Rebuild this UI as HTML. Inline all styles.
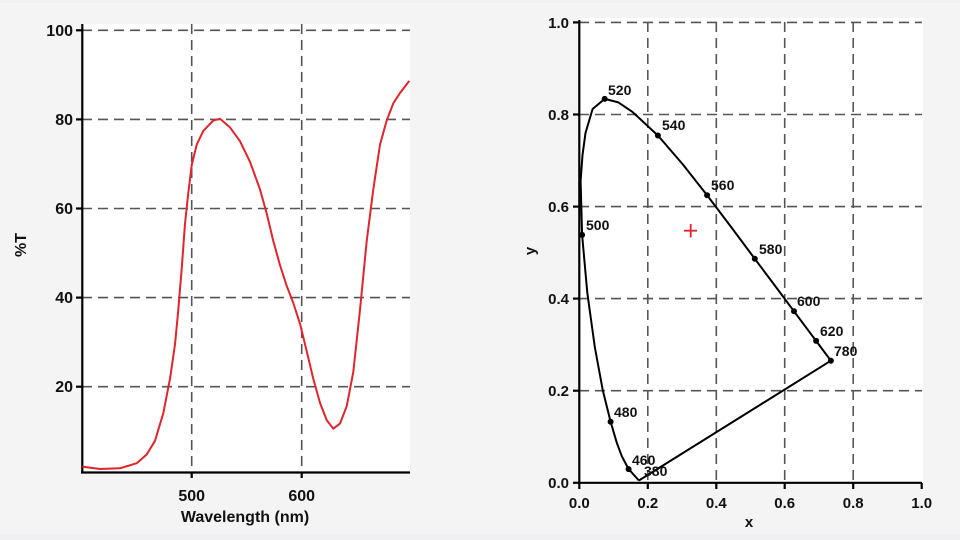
<!DOCTYPE html>
<html><head><meta charset="utf-8"><style>
html,body{margin:0;padding:0;background:#f0f0f2;}
svg{display:block}
text{font-family:"Liberation Sans",sans-serif;font-weight:bold;fill:#111}
</style></head><body>
<svg width="960" height="540" viewBox="0 0 960 540" xmlns="http://www.w3.org/2000/svg">
<rect x="0" y="0" width="960" height="540" fill="#f0f0f2"/>
<rect x="0" y="3" width="960" height="531" fill="#f4f4f5"/>
<!-- LEFT CHART -->
<rect x="82" y="24" width="328" height="449" fill="#fff"/>
<g stroke="#555" stroke-width="1.6" stroke-dasharray="10,6" fill="none">
<line x1="82" y1="30.3" x2="410" y2="30.3"/>
<line x1="82" y1="119.4" x2="410" y2="119.4"/>
<line x1="82" y1="208.5" x2="410" y2="208.5"/>
<line x1="82" y1="297.6" x2="410" y2="297.6"/>
<line x1="82" y1="386.7" x2="410" y2="386.7"/>
<line x1="191.7" y1="24" x2="191.7" y2="472"/>
<line x1="301.7" y1="24" x2="301.7" y2="472"/>
</g>
<g stroke="#000" stroke-width="2.2" fill="none">
<line x1="82.3" y1="24" x2="82.3" y2="473"/>
<line x1="81" y1="472.5" x2="410" y2="472.5"/>
<line x1="76" y1="30.3" x2="82" y2="30.3"/>
<line x1="76" y1="119.4" x2="82" y2="119.4"/>
<line x1="76" y1="208.5" x2="82" y2="208.5"/>
<line x1="76" y1="297.6" x2="82" y2="297.6"/>
<line x1="76" y1="386.7" x2="82" y2="386.7"/>
<line x1="191.7" y1="472" x2="191.7" y2="478"/>
<line x1="301.7" y1="472" x2="301.7" y2="478"/>
</g>
<g font-size="16" text-anchor="end">
<text x="73" y="36">100</text>
<text x="73" y="125">80</text>
<text x="73" y="214">60</text>
<text x="73" y="303">40</text>
<text x="73" y="392">20</text>
</g>
<g font-size="16" text-anchor="middle">
<text x="191.7" y="501">500</text>
<text x="301.7" y="501">600</text>
<text x="245" y="522">Wavelength (nm)</text>
<text transform="translate(26,245) rotate(-90)">%T</text>
</g>
<polyline fill="none" stroke="#e0252b" stroke-width="2" stroke-linejoin="round" points="
82.3,466.6 100,469 120,468.3 136.7,463.2 146.7,454.5 155,440.8 163.3,413.2 170,378.8 175,344.4 178.3,309.9 181.7,268.6 185,223.8 188.3,192.8 191.7,165.3 196.7,144.6 203.3,130.9 213.3,120.5 220,118.8 230,127.4 240,141.2 250,161.8 260,189.4 266.7,213.5 273.3,241 280,265.2 286.7,285.8 293.3,303 300,323.7 306.7,351.2 313.3,378.8 320,402.9 326.7,420.1 333.3,428.7 340,423.6 346.7,406.3 353.3,371.9 360,309.9 366.7,241 373.3,189.4 380,144.6 386.7,120.5 393.3,103.3 400,93 409.3,80.9"/>
<!-- RIGHT CHART -->
<rect x="579" y="18" width="344" height="465" fill="#fff"/>
<g stroke="#555" stroke-width="1.6" stroke-dasharray="10,6" fill="none">
<line x1="579" y1="22.4" x2="922" y2="22.4"/>
<line x1="579" y1="114.5" x2="922" y2="114.5"/>
<line x1="579" y1="206.6" x2="922" y2="206.6"/>
<line x1="579" y1="298.6" x2="922" y2="298.6"/>
<line x1="579" y1="390.7" x2="922" y2="390.7"/>
<line x1="647.8" y1="22" x2="647.8" y2="483"/>
<line x1="716.3" y1="22" x2="716.3" y2="483"/>
<line x1="784.7" y1="22" x2="784.7" y2="483"/>
<line x1="853.2" y1="22" x2="853.2" y2="483"/>
</g>
<g stroke="#000" stroke-width="2.2" fill="none">
<line x1="579.3" y1="20" x2="579.3" y2="484"/>
<line x1="578" y1="482.8" x2="922" y2="482.8"/>
<line x1="573" y1="22.4" x2="579" y2="22.4"/>
<line x1="573" y1="114.5" x2="579" y2="114.5"/>
<line x1="573" y1="206.6" x2="579" y2="206.6"/>
<line x1="573" y1="298.6" x2="579" y2="298.6"/>
<line x1="573" y1="390.7" x2="579" y2="390.7"/>
<line x1="573" y1="482.8" x2="579" y2="482.8"/>
<line x1="579.3" y1="483" x2="579.3" y2="489"/>
<line x1="647.8" y1="483" x2="647.8" y2="489"/>
<line x1="716.3" y1="483" x2="716.3" y2="489"/>
<line x1="784.7" y1="483" x2="784.7" y2="489"/>
<line x1="853.2" y1="483" x2="853.2" y2="489"/>
<line x1="921.7" y1="483" x2="921.7" y2="489"/>
</g>
<g font-size="15" text-anchor="end">
<text x="569" y="28">1.0</text>
<text x="569" y="120">0.8</text>
<text x="569" y="212">0.6</text>
<text x="569" y="304">0.4</text>
<text x="569" y="396">0.2</text>
<text x="569" y="488">0.0</text>
</g>
<g font-size="15" text-anchor="middle">
<text x="579.3" y="508">0.0</text>
<text x="647.8" y="508">0.2</text>
<text x="716.3" y="508">0.4</text>
<text x="784.7" y="508">0.6</text>
<text x="853.2" y="508">0.8</text>
<text x="921.7" y="508">1.0</text>
<text x="749" y="527">x</text>
<text transform="translate(535,251) rotate(-90)">y</text>
</g>
<polyline fill="none" stroke="#000" stroke-width="2" stroke-linejoin="round" points="
638.9,480.5 628.6,469.1 621.8,456.2 616.8,442.8 610.6,421.7 602.8,390.4 594.8,347.0 587.3,292.8 582.1,234.9 580.6,181.3 582.5,155 585.5,133 592.6,109.0 604.7,98.9 618.4,102.4 632.3,111.8 657.9,135.5 682.6,164.1 707.1,195.3 731.4,227.4 754.8,258.8 776.3,287.5 794.0,311.3 816.1,340.9 825.5,353.5 830.9,360.7 638.9,480.5"/>
<g fill="#000">
<circle cx="604.7" cy="98.9" r="3"/>
<circle cx="657.9" cy="135.5" r="3"/>
<circle cx="707.1" cy="195.3" r="3"/>
<circle cx="754.8" cy="258.8" r="3"/>
<circle cx="794.0" cy="311.3" r="3"/>
<circle cx="816.1" cy="340.9" r="3"/>
<circle cx="830.9" cy="360.7" r="3"/>
<circle cx="582.1" cy="234.9" r="3"/>
<circle cx="610.6" cy="421.7" r="3"/>
<circle cx="628.6" cy="469.1" r="3"/>
</g>
<g font-size="14">
<text x="608" y="95">520</text>
<text x="662" y="130">540</text>
<text x="711" y="190">560</text>
<text x="759" y="254">580</text>
<text x="797" y="306">600</text>
<text x="820" y="336">620</text>
<text x="834" y="356">780</text>
<text x="586" y="230">500</text>
<text x="614" y="417">480</text>
<text x="632" y="465">460</text>
<text x="644" y="476">380</text>
</g>
<g stroke="#e0252b" stroke-width="1.8">
<line x1="684" y1="230.7" x2="697" y2="230.7"/>
<line x1="690.7" y1="224" x2="690.7" y2="237.5"/>
</g>
</svg>
</body></html>
